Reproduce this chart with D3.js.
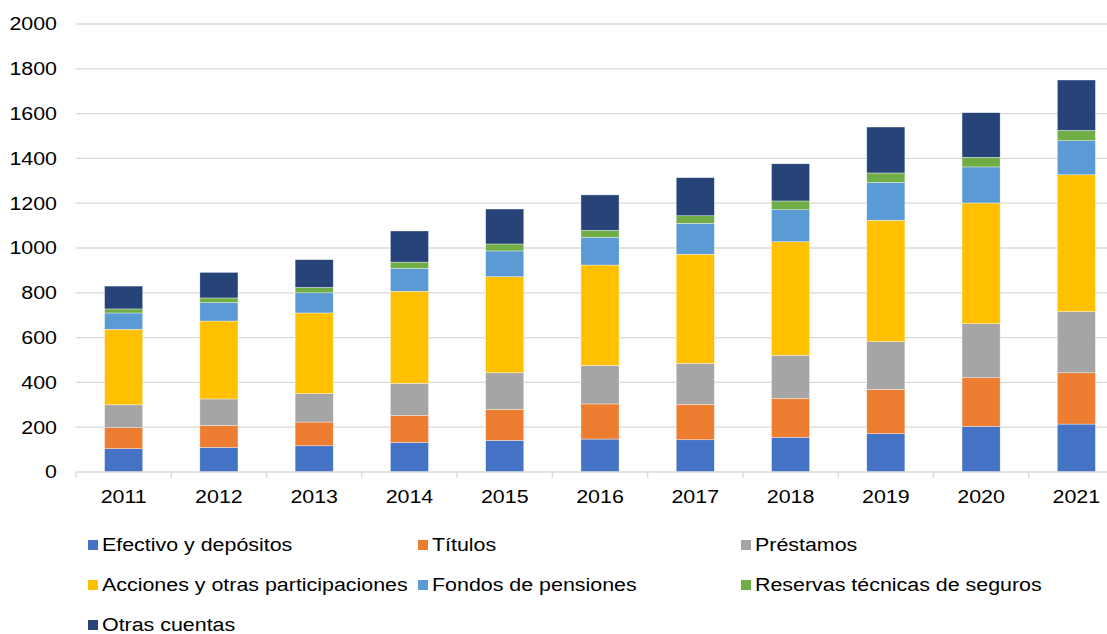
<!DOCTYPE html>
<html>
<head>
<meta charset="utf-8">
<script src="https://cdn.jsdelivr.net/npm/d3@7"></script>
<style>
  body { margin: 0; background: #fff; }
  svg { display: block; font-family: "Liberation Sans", Arial, sans-serif; }
</style>
</head>
<body>
<div id="chart"></div>
<script>
// Years on the x axis
const years = ["2011", "2012", "2013", "2014", "2015", "2016", "2017", "2018", "2019", "2020", "2021"];

// Series values
const efectivo   = [104, 110, 117, 132, 141, 147, 144, 155, 171, 204, 214];
const titulos    = [94, 98, 106, 121, 139, 157, 158, 174, 198, 217, 229];
const prestamos  = [102, 118, 127, 143, 163, 172, 183, 192, 213, 241, 273];
const acciones   = [337, 348, 360, 411, 429, 448, 487, 507, 542, 539, 611];
const fondos     = [73, 82, 90, 102, 115, 124, 138, 143, 169, 161, 152];
const reservas   = [18, 21, 24, 28, 31, 31, 34, 39, 42, 43, 46];
const otras      = [102, 114, 124, 139, 156, 158, 170, 166, 205, 199, 225];

const seriesNames = ["Efectivo y depósitos", "Títulos", "Préstamos",
  "Acciones y otras participaciones", "Fondos de pensiones",
  "Reservas técnicas de seguros", "Otras cuentas"];
const seriesValues = [efectivo, titulos, prestamos, acciones, fondos, reservas, otras];
const colors = ["#4472C4", "#ED7D31", "#A5A5A5", "#FFC000", "#5B9BD5", "#70AD47", "#264478"];

const yTicks = [0, 200, 400, 600, 800, 1000, 1200, 1400, 1600, 1800, 2000];

const width = 1107;
const height = 634;
const stretch = 1.19; // the original text is drawn a bit wide

// build rows for d3.stack
const rows = years.map((y, i) => {
  const row = { year: y };
  seriesNames.forEach((s, j) => { row[s] = seriesValues[j][i]; });
  return row;
});

const svg = d3.select('#chart')
  .append('svg')
  .attr('width', width)
  .attr('height', height);

// plot runs a bit past the right edge, like the cropped original
const x = d3.scaleBand()
  .domain(years)
  .range([76, 1124])
  .paddingInner(0.6)
  .paddingOuter(0.3);

const y = d3.scaleLinear()
  .domain([0, 2000])
  .range([472, 24]);

// gridlines
svg.append('g')
  .selectAll('line')
  .data(yTicks.filter(d => d > 0))
  .enter()
  .append('line')
  .attr('x1', 76)
  .attr('x2', width)
  .attr('y1', d => y(d))
  .attr('y2', d => y(d))
  .attr('stroke', '#d9d9d9')
  .attr('stroke-width', 1.3);

// y labels
svg.append('g')
  .selectAll('text')
  .data(yTicks)
  .enter()
  .append('text')
  .attr('transform', d => `translate(57,${y(d)}) scale(${stretch},1)`)
  .attr('dy', '0.35em')
  .attr('text-anchor', 'end')
  .attr('font-size', 18)
  .attr('fill', '#000')
  .text(d => d);

// stacked bars
const stack = d3.stack().keys(seriesNames);
const layers = stack(rows);

svg.append('g')
  .selectAll('g')
  .data(layers)
  .enter()
  .append('g')
  .attr('fill', (d, i) => colors[i])
  .selectAll('rect')
  .data(d => d)
  .enter()
  .append('rect')
  .attr('x', d => x(d.data.year))
  .attr('y', d => y(d[1]))
  .attr('width', x.bandwidth())
  .attr('height', d => y(d[0]) - y(d[1]))
  .attr('stroke', '#ffffff')
  .attr('stroke-opacity', 0.6)
  .attr('stroke-width', 0.6);

// x axis line and ticks
const step = x.step();
svg.append('line')
  .attr('x1', 76)
  .attr('x2', width)
  .attr('y1', y(0))
  .attr('y2', y(0))
  .attr('stroke', '#d9d9d9')
  .attr('stroke-width', 1.3);

svg.append('g')
  .selectAll('line')
  .data(d3.range(years.length + 1))
  .enter()
  .append('line')
  .attr('x1', i => 76 + i * step)
  .attr('x2', i => 76 + i * step)
  .attr('y1', y(0))
  .attr('y2', y(0) + 6)
  .attr('stroke', '#d9d9d9')
  .attr('stroke-width', 1.3);

// x labels
svg.append('g')
  .selectAll('text')
  .data(years)
  .enter()
  .append('text')
  .attr('transform', d => `translate(${x(d) + x.bandwidth() / 2},503) scale(${stretch},1)`)
  .attr('text-anchor', 'middle')
  .attr('font-size', 18)
  .attr('fill', '#000')
  .text(d => d);

// legend: 3 columns
const legendCols = [88, 418, 741];
const legendRows = [545, 585, 625];

const legend = svg.append('g')
  .selectAll('g')
  .data(seriesNames)
  .enter()
  .append('g')
  .attr('transform', (d, i) => `translate(${legendCols[i % 3]},${legendRows[Math.floor(i / 3)]})`);

legend.append('rect')
  .attr('x', 0)
  .attr('y', -5)
  .attr('width', 10)
  .attr('height', 10)
  .attr('fill', (d, i) => colors[i]);

legend.append('text')
  .attr('transform', `translate(14,0) scale(${stretch},1)`)
  .attr('dy', '0.35em')
  .attr('font-size', 18)
  .attr('fill', '#000')
  .text(d => d);
</script>
</body>
</html>
